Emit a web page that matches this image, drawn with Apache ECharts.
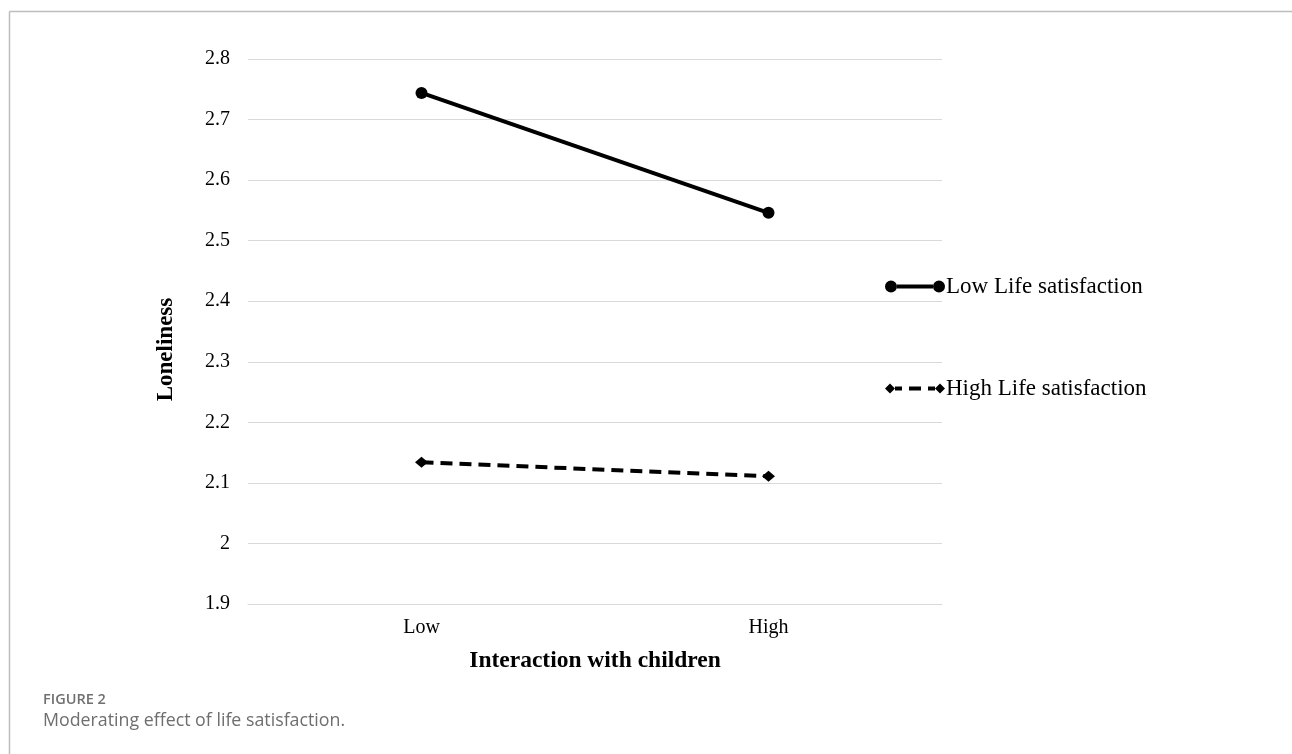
<!DOCTYPE html>
<html>
<head>
<meta charset="utf-8">
<script src="https://cdn.jsdelivr.net/npm/echarts@6/dist/echarts.min.js"></script>
<style>html,body{margin:0;padding:0;background:#fff;}#c{width:1292px;height:754px;}</style>
</head>
<body>
<div id="c"></div>
<script>
const categories = ['Low', 'High'];
const lowLifeSatisfaction = [2.744, 2.546];
const highLifeSatisfaction = [2.134, 2.111];
const seriesNames = ['Low Life satisfaction', 'High Life satisfaction'];
const yTicks = { min: 1.9, max: 2.8, interval: 0.1 };

const serif = '"Liberation Serif", "Times New Roman", serif';
const iconSolid = 'path://M0,6A6,6 0 1,1 12,6A6,6 0 1,1 0,6ZM12,4L48,4L48,8L12,8ZM48,6A6,6 0 1,1 60,6A6,6 0 1,1 48,6Z';
const iconDashed = 'path://M0,6L5,1L10,6L5,11ZM10,4L17,4L17,8L10,8ZM24,4L36,4L36,8L24,8ZM43,4L50,4L50,8L43,8ZM50,6L55,1L60,6L55,11Z';

const chart = echarts.init(document.getElementById('c'), null, { renderer: 'canvas' });
chart.setOption({
  backgroundColor: '#fff',
  animation: false,
  title: [
    { text: 'FIGURE 2', left: 43, top: 692, padding: 0, textStyle: { fontFamily: '"Open Sans", "Noto Sans", sans-serif', fontSize: 14.5, fontWeight: 600, color: '#707070' } },
    { text: 'Moderating effect of life satisfaction.', left: 43, top: 712, padding: 0, textStyle: { fontFamily: '"Open Sans", "Noto Sans", sans-serif', fontSize: 17.8, fontWeight: 'normal', color: '#6e6e6e' } }
  ],
  graphic: [
    { type: 'line', shape: { x1: 9.5, y1: 11.5, x2: 1292, y2: 11.5 }, style: { stroke: '#bdbdbd', lineWidth: 1.5 } },
    { type: 'line', shape: { x1: 9.5, y1: 11.5, x2: 9.5, y2: 754 }, style: { stroke: '#bdbdbd', lineWidth: 1.5 } }
  ],
  legend: [
    { data: [{ name: seriesNames[0], icon: iconSolid }], left: 885, top: 275, padding: 0, orient: 'vertical', itemWidth: 60, itemHeight: 12, itemGap: 0,
      textStyle: { fontFamily: serif, fontSize: 23, color: '#000', padding: [0, 0, 0, -4] } },
    { data: [{ name: seriesNames[1], icon: iconDashed }], left: 885, top: 377, padding: 0, orient: 'vertical', itemWidth: 60, itemHeight: 12, itemGap: 0,
      textStyle: { fontFamily: serif, fontSize: 23, color: '#000', padding: [0, 0, 0, -4] } }
  ],
  grid: { left: 248, right: 350, top: 59, bottom: 150, containLabel: false },
  xAxis: {
    type: 'category',
    data: categories,
    boundaryGap: true,
    axisLine: { show: true, lineStyle: { color: '#d9d9d9', width: 1 } },
    axisTick: { show: false },
    axisLabel: { fontFamily: serif, fontSize: 20, color: '#000', margin: 14 },
    name: 'Interaction with children',
    nameLocation: 'middle',
    nameGap: 45,
    nameTextStyle: { fontFamily: serif, fontSize: 23.5, fontWeight: 'bold', color: '#000' }
  },
  yAxis: {
    type: 'value',
    min: yTicks.min,
    max: yTicks.max,
    interval: yTicks.interval,
    axisLine: { show: false },
    axisTick: { show: false },
    splitLine: { lineStyle: { color: '#d9d9d9', width: 1 } },
    axisLabel: { fontFamily: serif, fontSize: 20, color: '#000', margin: 18,
      formatter: v => { const r = Math.round(v * 10) / 10; return r === 2 ? '2' : r.toFixed(1); } },
    name: 'Loneliness',
    nameLocation: 'middle',
    nameGap: 70,
    nameTextStyle: { fontFamily: serif, fontSize: 23, fontWeight: 'bold', color: '#000', padding: [0, 36, 0, 0] }
  },
  series: [
    { name: seriesNames[0], type: 'line', data: lowLifeSatisfaction, symbol: 'circle', symbolSize: 12,
      lineStyle: { color: '#000', width: 4, type: 'solid' }, itemStyle: { color: '#000' } },
    { name: seriesNames[1], type: 'line', data: highLifeSatisfaction, symbol: 'diamond', symbolSize: [13, 11],
      lineStyle: { color: '#000', width: 4, type: [12, 7] }, itemStyle: { color: '#000' } }
  ]
});
</script>
</body>
</html>
